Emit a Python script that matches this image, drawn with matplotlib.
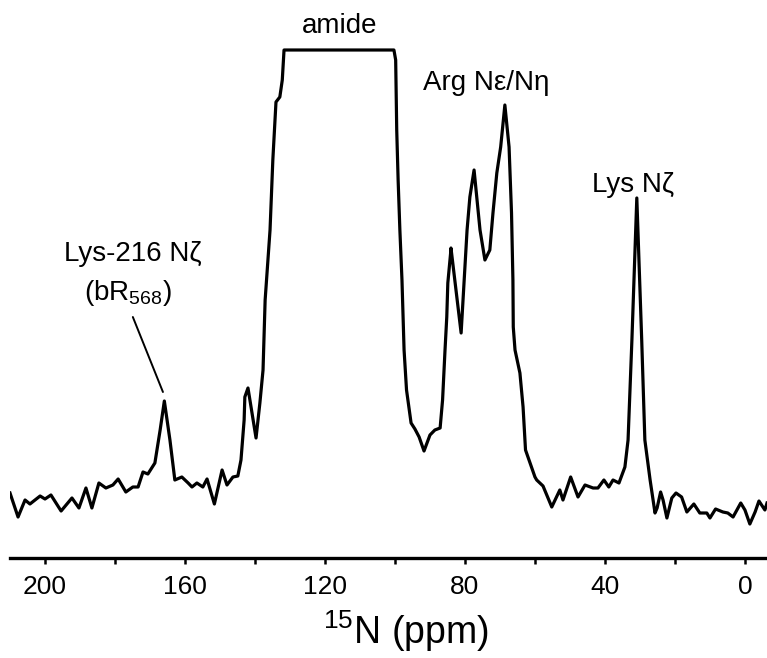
import numpy as np
import matplotlib
matplotlib.use('Agg')
from matplotlib import pyplot as plt

plt.rcParams['font.family'] = ['Liberation Sans', 'DejaVu Sans']
plt.rcParams['mathtext.fontset'] = 'custom'
plt.rcParams['mathtext.rm'] = 'Liberation Sans'
plt.rcParams['mathtext.it'] = 'Liberation Sans:italic'

# 15N chemical shift (ppm) and intensity (a.u.)
ppm = [210.0, 207.7, 205.7, 204.3, 201.4, 200.0, 198.3, 195.4, 192.3, 190.3,
       188.3, 186.6, 184.6, 182.6, 180.6, 179.1, 176.9, 174.9, 173.4, 172.0,
       170.6, 168.6, 167.1, 165.9, 164.3, 162.9, 160.9, 159.1, 158.0, 156.6,
       154.9, 153.7, 151.6, 149.4, 148.0, 146.3, 144.9, 144.0, 143.1, 142.9,
       142.0, 139.7, 138.6, 137.7, 137.1, 135.7, 134.9, 134.0, 132.9, 132.2,
       131.7, 100.3, 99.8, 99.5, 99.1, 98.6, 98.0, 97.4, 96.7, 95.4,
       94.3, 93.1, 91.7, 90.0, 88.6, 87.1, 86.4, 85.7, 85.2, 84.9,
       84.1, 84.0, 81.1, 79.4, 78.6, 77.4, 75.7, 74.3, 72.9, 72.0,
       70.9, 69.8, 68.6, 67.4, 66.7, 66.3, 66.2, 65.7, 64.3, 63.4,
       62.7, 61.4, 60.0, 59.5, 57.7, 55.2, 52.9, 52.0, 49.8, 47.7,
       45.7, 43.4, 42.0, 40.3, 38.9, 37.7, 36.0, 34.3, 33.4, 32.3,
       30.9, 29.5, 28.6, 27.1, 25.7, 25.1, 24.1, 23.4, 22.3, 20.9,
       19.7, 18.1, 16.6, 14.6, 12.9, 10.9, 10.0, 8.4, 6.3, 4.9,
       3.4, 1.2, 0.0, -1.4, -2.9, -4.0, -5.7, -6.3]
intensity = [65, 41, 58, 54, 62, 59, 63, 47, 60, 50,
             70, 50, 75, 70, 73, 79, 66, 71, 71, 86,
             84, 95, 128, 157, 118, 78, 81, 75, 71, 75,
             71, 79, 54, 88, 73, 81, 82, 98, 138, 161,
             170, 120, 155, 188, 258, 328, 398, 456, 461, 478,
             508, 508, 498, 428, 378, 328, 278, 208, 168, 135,
             129, 121, 107, 123, 128, 130, 158, 208, 241, 275,
             305, 310, 225, 328, 361, 388, 328, 298, 308, 345,
             385, 411, 453, 411, 345, 278, 231, 208, 185, 151,
             108, 95, 81, 78, 72, 51, 68, 58, 81, 61,
             73, 70, 70, 78, 71, 78, 75, 91, 118, 218,
             360, 218, 118, 78, 45, 50, 66, 58, 40, 60,
             65, 61, 46, 54, 45, 45, 40, 49, 46, 45,
             41, 55, 48, 34, 46, 57, 48, 55]

major_ticks = [200, 160, 120, 80, 40, 0]
minor_ticks = [180, 140, 100, 60, 20]

fig = plt.figure(figsize=(7.67, 6.58), dpi=100)
ax = fig.add_axes([10 / 767, 100 / 658, 757 / 767, 558 / 658])

ax.plot(ppm, intensity, color='black', lw=2.3, solid_joinstyle='round')

ax.set_xlim(210.0, -6.3)
ax.set_ylim(0, 558)

for side in ['top', 'left', 'right']:
    ax.spines[side].set_visible(False)
ax.spines['bottom'].set_linewidth(2.4)
ax.set_yticks([])
ax.set_xticks(major_ticks)
ax.set_xticks(minor_ticks, minor=True)
ax.tick_params(axis='x', which='both', direction='out', length=4,
               width=1.8, labelsize=19, pad=8)
ax.set_xlabel(r'$^{15}$N (ppm)', fontsize=27, x=(406 - 10) / 757, labelpad=7)

ax.text(115.7, 525, 'amide', fontsize=20, ha='center', va='baseline')
ax.text(73.8, 468, 'Arg N\u03b5/N\u03b7', fontsize=20, ha='center', va='baseline')
ax.text(32.1, 366, 'Lys N\u03b6', fontsize=20, ha='center', va='baseline')
ax.text(175.0, 297, 'Lys-216 N\u03b6', fontsize=20, ha='center', va='baseline')
ax.text(176.3, 258, r'(bR$_{568}$)', fontsize=20, ha='center', va='baseline')
ax.annotate('', xy=(166.3, 166), xytext=(174.9, 241),
            arrowprops=dict(arrowstyle='-', lw=1.4, color='black',
                            shrinkA=0, shrinkB=0))

fig.savefig('out.png', dpi=100)
